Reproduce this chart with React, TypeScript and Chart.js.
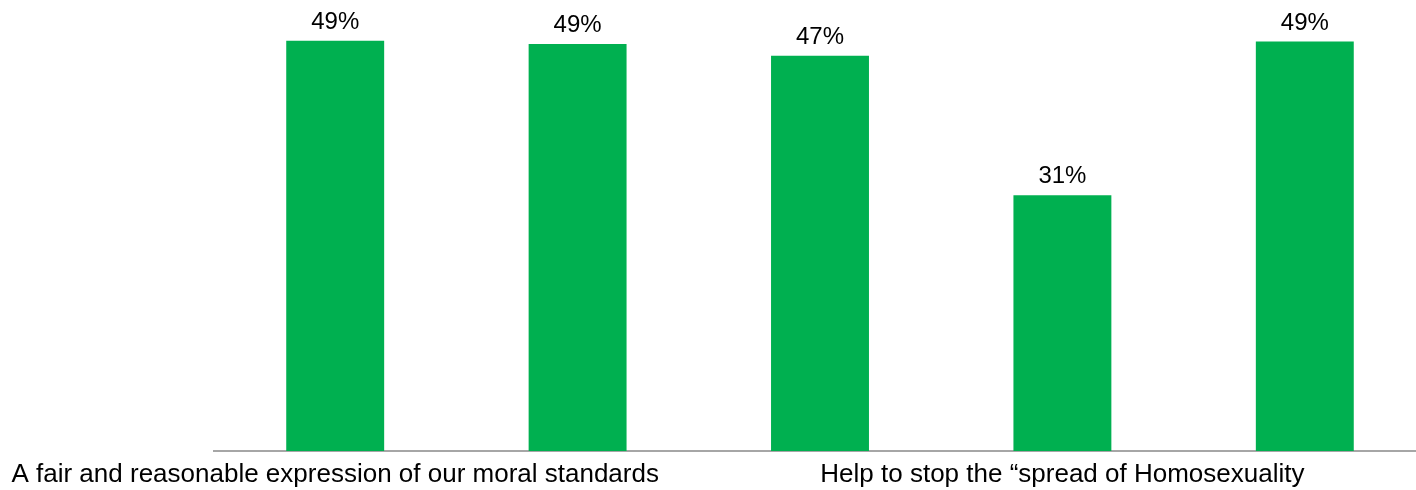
import React, { useEffect, useRef } from "react";
import { Chart, registerables } from "chart.js";

Chart.register(...registerables);

const categories: string[] = [
  "A fair and reasonable expression of our moral standards",
  "",
  "",
  "Help to stop the \u201cspread of Homosexuality",
  "",
];
const values: number[] = [49.4, 49.0, 47.6, 30.8, 49.3];
const valueLabels: string[] = ["49%", "49%", "47%", "31%", "49%"];
const shownTickIndexes: number[] = [0, 3];

const barColor = "#00B050";
const FONT = "'Liberation Sans', Arial, sans-serif";

const labelPlugin = {
  id: "valueLabels",
  afterDatasetsDraw(chart: any) {
    const ctx = chart.ctx;
    const meta = chart.getDatasetMeta(0);
    ctx.save();
    ctx.font = `24px ${FONT}`;
    ctx.fillStyle = "#000000";
    ctx.textAlign = "center";
    ctx.textBaseline = "alphabetic";
    meta.data.forEach((bar: any, i: number) => {
      ctx.fillText(valueLabels[i], bar.x, bar.y - 12);
    });
    ctx.restore();
  },
};

export default function App() {
  const ref = useRef<HTMLCanvasElement | null>(null);
  useEffect(() => {
    if (!ref.current) return;
    const chart = new Chart(ref.current, {
      type: "bar",
      data: {
        labels: categories,
        datasets: [
          {
            data: values,
            backgroundColor: barColor,
            borderWidth: 0,
            barPercentage: 0.404,
            categoryPercentage: 1,
          },
        ],
      },
      options: {
        responsive: false,
        animation: false,
        devicePixelRatio: 1,
        layout: { padding: { left: 214, right: 14, top: 0, bottom: 0 } },
        plugins: {
          legend: { display: false },
          tooltip: { enabled: false },
        },
        scales: {
          x: {
            grid: { display: false },
            border: { display: true, color: "#A6A6A6", width: 2 },
            afterFit: (scale: any) => {
              scale.height = 39;
              scale.paddingLeft = 0;
              scale.paddingRight = 0;
            },
            ticks: {
              autoSkip: false,
              maxRotation: 0,
              minRotation: 0,
              padding: 0,
              color: "#000000",
              font: { family: FONT, size: 26 },
              callback: (_v: any, i: number) =>
                shownTickIndexes.includes(i) ? categories[i] : "",
            },
          },
          y: {
            display: false,
            min: 0,
            max: 54.3,
          },
        },
      },
      plugins: [labelPlugin],
    });
    return () => chart.destroy();
  }, []);
  return (
    <div
      style={{
        position: "fixed",
        left: 0,
        top: 0,
        width: 1416,
        height: 490,
        overflow: "hidden",
        background: "#ffffff",
      }}
    >
      <canvas ref={ref} width={1440} height={490} style={{ width: 1440, height: 490 }} />
    </div>
  );
}
